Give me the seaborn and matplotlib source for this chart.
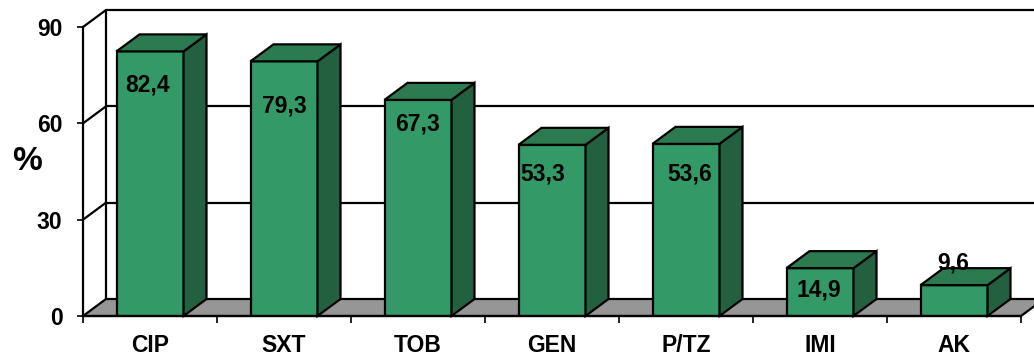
import numpy as np
import matplotlib
matplotlib.use("Agg")
import matplotlib.pyplot as plt
import seaborn as sns
from matplotlib.patches import Polygon
from matplotlib.lines import Line2D

# Resistance rates per antibiotic (%)
categories = ["CIP", "SXT", "TOB", "GEN", "P/TZ", "IMI", "AK"]
resistance = [82.4, 79.3, 67.3, 53.3, 53.6, 14.9, 9.6]
value_labels = ["82,4", "79,3", "67,3", "53,3", "53,6", "14,9", "9,6"]
y_ticks = [0, 30, 60, 90]

# value label placement (pixels) relative to the top-front edge of each bar
label_offsets = [(-2, -34), (0, -45), (0, -24), (-9, -29), (4, -30), (-1, -22), (-1, 22)]

FRONT = "#339966"
TOP = "#2C7A50"
SIDE = "#22603F"
FLOOR = "#969696"
EDGE = "black"
LW = 1.6
FS = 16.5

sns.set_theme(style="white")
plt.rcParams["font.family"] = ["Liberation Sans", "DejaVu Sans"]
plt.rcParams["font.weight"] = "bold"
plt.rcParams["text.color"] = "black"

W, H = 1034, 356
fig = plt.figure(figsize=(W / 100, H / 100), dpi=100)
fig.patch.set_facecolor("white")

# front plane of the plot box in pixels
x0, x1, yb, yt = 83, 1021, 316, 27
ax = fig.add_axes([x0 / W, 1 - yb / H, (x1 - x0) / W, (yb - yt) / H])
ax.set_facecolor("none")

n = len(categories)
xmin, xmax = -0.5, n - 0.5
ymax = y_ticks[-1]
# perspective depth converted into data units
DX = 23 / ((x1 - x0) / n)
DY = 17 / ((yb - yt) / ymax)

sns.barplot(x=categories, y=resistance, width=0.5, color=FRONT, saturation=1,
            edgecolor=EDGE, linewidth=LW, ax=ax, zorder=4)
ax.set_xlim(xmin, xmax)
ax.set_ylim(0, ymax)
bars = list(ax.patches)

# floor
floor = Polygon([(xmin, 0), (xmax, 0), (xmax + DX, DY), (xmin + DX, DY)],
                closed=True, facecolor=FLOOR, edgecolor=EDGE, linewidth=LW,
                clip_on=False, zorder=1)
ax.add_patch(floor)

# side wall and back wall gridlines
far_right = xmax + 2
for v in y_ticks[1:]:
    ax.add_line(Line2D([xmin, xmin + DX], [v, v + DY], color=EDGE, lw=LW,
                       clip_on=False, zorder=1))
    ax.add_line(Line2D([xmin + DX, far_right], [v + DY, v + DY], color=EDGE, lw=LW,
                       clip_on=False, zorder=1))
ax.add_line(Line2D([xmin + DX, xmin + DX], [DY, ymax + DY], color=EDGE, lw=LW,
                   clip_on=False, zorder=1))

# 3-D faces of the bars
for bar in bars:
    l = bar.get_x()
    r = l + bar.get_width()
    v = bar.get_height()
    top = Polygon([(l, v), (r, v), (r + DX, v + DY), (l + DX, v + DY)], closed=True,
                  facecolor=TOP, edgecolor=EDGE, linewidth=LW, clip_on=False, zorder=4)
    side = Polygon([(r, 0), (r, v), (r + DX, v + DY), (r + DX, DY)], closed=True,
                   facecolor=SIDE, edgecolor=EDGE, linewidth=LW, clip_on=False, zorder=4)
    ax.add_patch(side)
    ax.add_patch(top)

# value labels
for i, (v, txt) in enumerate(zip(resistance, value_labels)):
    dx, dy = label_offsets[i]
    ax.annotate(txt, xy=(i, v), xytext=(dx, dy), textcoords="offset pixels",
                ha="center", va="center", fontsize=FS, fontweight="bold",
                color="black", zorder=6, annotation_clip=False)

# axes lines and ticks
for s in ["top", "right"]:
    ax.spines[s].set_visible(False)
for s in ["left", "bottom"]:
    ax.spines[s].set_color(EDGE)
    ax.spines[s].set_linewidth(LW)
    ax.spines[s].set_zorder(5)

ax.set_yticks(y_ticks)
ax.set_yticklabels([str(t) for t in y_ticks])
ax.set_xlabel("")
ax.set_ylabel("")
ax.tick_params(axis="y", which="major", direction="out", length=4.3, width=1.2,
               color=EDGE, pad=10.5, labelsize=FS, labelcolor="black", left=True)
ax.tick_params(axis="x", which="major", length=0, pad=13, labelsize=FS,
               labelcolor="black")
ax.set_xticks(np.arange(xmin, xmax + 0.01, 1), minor=True)
ax.tick_params(axis="x", which="minor", direction="out", length=5, width=1.2,
               color=EDGE, bottom=True)
for lab in ax.get_xticklabels() + ax.get_yticklabels():
    lab.set_fontweight("bold")

fig.text(27 / W, 1 - 161 / H, "%", fontsize=24, fontweight="bold",
         color="black", ha="center", va="center")

fig.savefig("out.png", dpi=100, facecolor="white")
